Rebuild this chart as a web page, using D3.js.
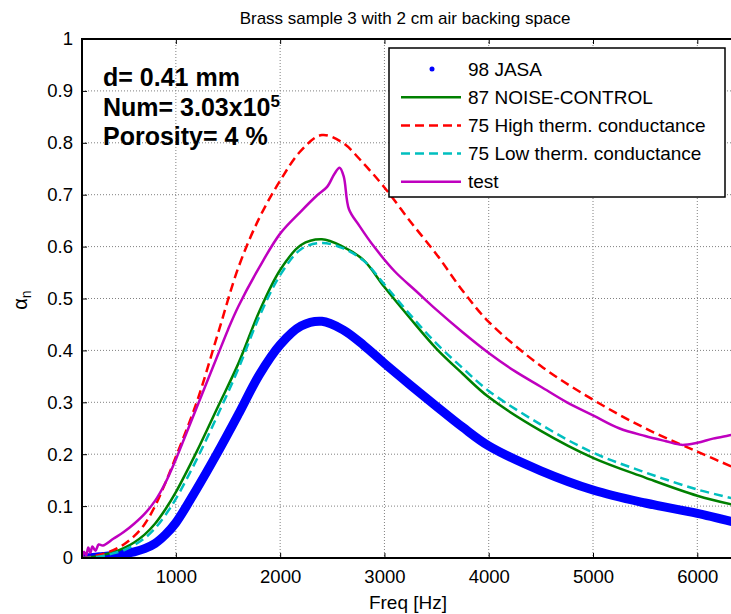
<!DOCTYPE html>
<html>
<head>
<meta charset="utf-8">
<script src="https://cdn.jsdelivr.net/npm/d3@7/dist/d3.min.js"></script>
<style>
  body { margin: 0; background: #fff; }
  text { font-family: Arial, "Liberation Sans", sans-serif; }
</style>
</head>
<body>
<svg id="chart" width="731" height="614"></svg>
<script>
// data
var freq = [100, 200, 300, 400, 500, 600, 700, 800, 900, 1000, 1200, 1400, 1600, 1800, 2000,
  2200, 2400, 2600, 2800, 3000, 3250, 3500, 3750, 4000, 4500, 5000, 5500, 6000, 6400];

var jasa = [0, 0.001, 0.003, 0.005, 0.008, 0.012, 0.018, 0.028, 0.045, 0.068, 0.133, 0.203, 0.277, 0.353, 0.411,
  0.447, 0.456, 0.44, 0.41, 0.375, 0.333, 0.292, 0.252, 0.216, 0.168, 0.131, 0.106, 0.086, 0.067];

var noiseControl = [0, 0.002, 0.006, 0.011, 0.019, 0.03, 0.045, 0.066, 0.094, 0.127, 0.205, 0.29, 0.375, 0.475, 0.555,
  0.603, 0.614, 0.6, 0.574, 0.522, 0.461, 0.403, 0.355, 0.31, 0.245, 0.193, 0.155, 0.12, 0.1];

var highTherm = [0, 0.003, 0.008, 0.015, 0.026, 0.042, 0.065, 0.1, 0.145, 0.195, 0.3, 0.43, 0.56, 0.655, 0.727,
  0.785, 0.815, 0.8, 0.76, 0.714, 0.648, 0.585, 0.515, 0.455, 0.37, 0.305, 0.25, 0.205, 0.17];

var lowTherm = [0, 0.001, 0.004, 0.009, 0.015, 0.025, 0.038, 0.057, 0.083, 0.114, 0.19, 0.275, 0.365, 0.465, 0.545,
  0.595, 0.607, 0.597, 0.573, 0.527, 0.468, 0.413, 0.366, 0.322, 0.257, 0.203, 0.165, 0.132, 0.112];

var testFreq = [100, 120, 140, 160, 180, 200, 230, 260, 300, 400, 500, 600, 700, 800, 900, 1000, 1100, 1200,
  1300, 1400, 1500, 1600, 1800, 2000, 2200, 2350, 2450, 2520, 2570, 2610, 2660, 2760, 2900, 3100, 3300,
  3500, 3750, 4000, 4250, 4500, 4750, 5000, 5250, 5500, 5700, 5850, 6000, 6150, 6300, 6400];
var test = [0, 0.012, 0.005, 0.02, 0.01, 0.022, 0.014, 0.026, 0.024, 0.037, 0.05, 0.066, 0.085, 0.11, 0.145, 0.19,
  0.24, 0.29, 0.34, 0.39, 0.44, 0.485, 0.56, 0.625, 0.668, 0.698, 0.715, 0.74, 0.752, 0.735, 0.672, 0.64, 0.6,
  0.552, 0.515, 0.478, 0.435, 0.395, 0.36, 0.33, 0.3, 0.275, 0.25, 0.235, 0.225, 0.218, 0.222, 0.23, 0.236, 0.24];

var xTicks = [1000, 2000, 3000, 4000, 5000, 6000];
var yTicks = [0, 0.1, 0.2, 0.3, 0.4, 0.5, 0.6, 0.7, 0.8, 0.9, 1];

var series = [
  {name: "98 JASA", x: freq, y: jasa, color: "#0000ff", width: 9, dash: null, dot: true},
  {name: "87 NOISE-CONTROL", x: freq, y: noiseControl, color: "#008000", width: 2.5, dash: null},
  {name: "75 High therm. conductance", x: freq, y: highTherm, color: "#ff0000", width: 2.5, dash: "9,5"},
  {name: "75 Low therm. conductance", x: freq, y: lowTherm, color: "#00bfbf", width: 2.5, dash: "9,5"},
  {name: "test", x: testFreq, y: test, color: "#bf00bf", width: 2.5, dash: null}
];

var plotLeft = 82, plotTop = 39, plotBottom = 558, plotRight = 739;

var svg = d3.select("#chart");
var x = d3.scaleLinear().domain([100, 6400]).range([plotLeft, plotRight]);
var y = d3.scaleLinear().domain([0, 1]).range([plotBottom, plotTop]);

svg.append("defs").append("clipPath").attr("id", "plotClip")
  .append("rect")
  .attr("x", plotLeft).attr("y", plotTop)
  .attr("width", plotRight - plotLeft).attr("height", plotBottom - plotTop);

/*
Dotted grid lines at every tick
*/
function grid(){
  svg.append("g").selectAll("line")
    .data(xTicks).enter().append("line")
    .attr("x1", function(d){return x(d);}).attr("x2", function(d){return x(d);})
    .attr("y1", plotTop).attr("y2", plotBottom)
    .style("stroke", "#808080").style("stroke-width", 1).style("stroke-dasharray", "1,2");

  svg.append("g").selectAll("line")
    .data(yTicks.slice(1, -1)).enter().append("line")
    .attr("x1", plotLeft).attr("x2", plotRight)
    .attr("y1", function(d){return y(d);}).attr("y2", function(d){return y(d);})
    .style("stroke", "#808080").style("stroke-width", 1).style("stroke-dasharray", "1,2");
}

/*
Box with inward ticks, like matlab
*/
function axes(){
  var bottomAxis = d3.axisBottom(x).tickValues(xTicks).tickSize(-5).tickPadding(12).tickFormat(d3.format("d"));
  var topAxis = d3.axisTop(x).tickValues(xTicks).tickSize(-5).tickFormat("");
  var leftAxis = d3.axisLeft(y).tickValues(yTicks).tickSize(-5).tickPadding(9)
    .tickFormat(function(d){return String(+d.toFixed(1));});

  var gb = svg.append("g").attr("transform", "translate(0," + plotBottom + ")").call(bottomAxis);
  var gt = svg.append("g").attr("transform", "translate(0," + plotTop + ")").call(topAxis);
  var gl = svg.append("g").attr("transform", "translate(" + plotLeft + ",0)").call(leftAxis);

  [gb, gt, gl].forEach(function(g){
    g.select(".domain").remove();
    g.selectAll("line").style("stroke", "#000").style("stroke-width", 1);
    g.selectAll("text").style("font-size", "18.5px").style("font-family", "Arial, 'Liberation Sans', sans-serif").style("fill", "#000");
  });

  svg.append("line").attr("x1", plotLeft).attr("x2", plotRight).attr("y1", plotBottom).attr("y2", plotBottom)
    .style("stroke", "#000").style("stroke-width", 2);
  svg.append("line").attr("x1", plotLeft).attr("x2", plotRight).attr("y1", plotTop).attr("y2", plotTop)
    .style("stroke", "#000").style("stroke-width", 2);
  svg.append("line").attr("x1", plotLeft).attr("x2", plotLeft).attr("y1", plotTop - 1).attr("y2", plotBottom + 1)
    .style("stroke", "#000").style("stroke-width", 2);
}

function curves(){
  var g = svg.append("g").attr("clip-path", "url(#plotClip)");
  series.forEach(function(s){
    var pts = s.x.map(function(f, i){return [f, s.y[i]];});
    var line = d3.line()
      .x(function(d){return x(d[0]);})
      .y(function(d){return y(d[1]);})
      .curve(d3.curveCatmullRom.alpha(0.5));
    g.append("path")
      .attr("d", line(pts))
      .style("fill", "none")
      .style("stroke", s.color)
      .style("stroke-width", s.width)
      .style("stroke-linecap", s.dot ? "round" : "butt")
      .style("stroke-linejoin", "round")
      .style("stroke-dasharray", s.dash);
  });
}

function legend(){
  var lx = 389, ly = 48, lw = 336, lh = 149, rowH = 28.2;
  svg.append("rect")
    .attr("x", lx).attr("y", ly).attr("width", lw).attr("height", lh)
    .style("fill", "#fff").style("stroke", "#000").style("stroke-width", 1.5);

  var rows = svg.selectAll("g.legendRow")
    .data(series).enter().append("g")
    .attr("class", "legendRow")
    .attr("transform", function(d, i){return "translate(" + lx + "," + (ly + 21 + i * rowH) + ")";});

  rows.each(function(d){
    var r = d3.select(this);
    if (d.dot) {
      r.append("circle").attr("cx", 43).attr("cy", 0).attr("r", 2.5).style("fill", d.color);
    } else {
      r.append("line").attr("x1", 12).attr("x2", 72).attr("y1", 0).attr("y2", 0)
        .style("stroke", d.color).style("stroke-width", d.width).style("stroke-dasharray", d.dash);
    }
  });

  rows.append("text")
    .text(function(d){return d.name;})
    .attr("x", 79).attr("y", 0).attr("dy", "0.35em")
    .style("font-size", "19px").style("fill", "#000");
}

function labels(){
  svg.append("text").text("Brass sample 3 with 2 cm air backing space")
    .attr("x", 405).attr("y", 24).attr("text-anchor", "middle")
    .style("font-size", "17px");

  svg.append("text").text("Freq [Hz]")
    .attr("x", 408).attr("y", 609).attr("text-anchor", "middle")
    .style("font-size", "19px");

  var yl = svg.append("text")
    .attr("transform", "translate(27,300) rotate(-90)")
    .attr("text-anchor", "middle")
    .style("font-size", "20px");
  yl.append("tspan").text("\u03b1");
  yl.append("tspan").text("n").attr("dy", "0.3em").style("font-size", "14px");

  var notes = svg.append("g").style("font-weight", "bold").style("font-size", "25px");
  notes.append("text").text("d= 0.41 mm").attr("x", 103).attr("y", 86);
  var num = notes.append("text").attr("x", 103).attr("y", 116);
  num.append("tspan").text("Num= 3.03x10");
  num.append("tspan").text("5").attr("dy", "-9").style("font-size", "17px");
  notes.append("text").text("Porosity= 4 %").attr("x", 103).attr("y", 145);
}

grid();
curves();
axes();
legend();
labels();
</script>
</body>
</html>
